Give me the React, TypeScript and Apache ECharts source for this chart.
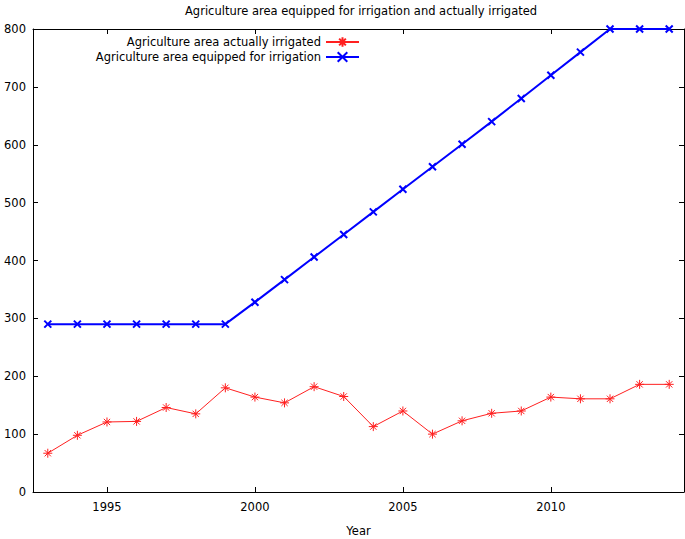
import React, { useEffect, useRef } from "react";
import * as echarts from "echarts";

const years = [1993, 1994, 1995, 1996, 1997, 1998, 1999, 2000, 2001, 2002, 2003, 2004, 2005, 2006, 2007, 2008, 2009, 2010, 2011, 2012, 2013, 2014];
const actuallyIrrigated = [67, 98, 121, 122, 146, 135, 180, 164, 154, 182, 165, 113, 140, 100, 123, 136, 140, 164, 161, 161, 186, 186];
const equippedForIrrigation = [290, 290, 290, 290, 290, 290, 290, 328, 367, 406, 445, 484, 523, 562, 601, 640, 680, 720, 760, 800, 800, 800];
const xTicks = [1995, 2000, 2005, 2010];
const nameActual = "Agriculture area actually irrigated";
const nameEquipped = "Agriculture area equipped for irrigation";

const FONT = "DejaVu Sans";
const FS = 11.5;
const STAR = "path://M5,0L5,10M0,5L10,5M1.5,1.5L8.5,8.5M8.5,1.5L1.5,8.5";
const CROSS = "path://M0,0L10,10M10,0L0,10";

export default function App() {
  const ref = useRef<HTMLDivElement>(null);
  useEffect(() => {
    if (!ref.current) return;
    const chart = echarts.init(ref.current, null, { renderer: "svg" });
    const axisCommon = {
      axisLine: { show: true, onZero: false, lineStyle: { color: "#000", width: 1 } },
      splitLine: { show: false },
    };
    const legendCommon = {
      right: 325,
      padding: 0,
      align: "right",
      itemWidth: 33,
      itemHeight: 12,
      itemGap: 0,
      textStyle: { fontFamily: FONT, fontSize: FS, color: "#000" },
    };
    chart.setOption({
      animation: false,
      backgroundColor: "#fff",
      title: {
        text: "Agriculture area equipped for irrigation and actually irrigated",
        left: 180,
        top: 0,
        textStyle: { fontFamily: FONT, fontSize: FS, fontWeight: "normal", color: "#000" },
      },
      legend: [
        { ...legendCommon, data: [nameActual], top: 36 },
        { ...legendCommon, data: [nameEquipped], top: 51 },
      ],
      grid: { left: 33, right: 1, top: 29, bottom: 47, outerBoundsMode: "none", containLabel: false },
      xAxis: [
        {
          type: "value",
          min: 1992.5,
          max: 2014.5,
          position: "bottom",
          name: "Year",
          nameLocation: "middle",
          nameGap: 33,
          nameTextStyle: { fontFamily: FONT, fontSize: FS, color: "#000" },
          ...axisCommon,
          axisTick: { show: true, inside: true, length: 5, customValues: xTicks, lineStyle: { color: "#000" } },
          axisLabel: {
            show: true,
            customValues: xTicks,
            formatter: (v: number) => String(v),
            margin: 9,
            fontFamily: FONT,
            fontSize: FS,
            color: "#000",
          },
        },
        {
          type: "value",
          min: 1992.5,
          max: 2014.5,
          position: "top",
          ...axisCommon,
          axisTick: { show: true, inside: true, length: 5, customValues: xTicks, lineStyle: { color: "#000" } },
          axisLabel: { show: false },
        },
      ],
      yAxis: [
        {
          type: "value",
          min: 0,
          max: 800,
          interval: 100,
          position: "left",
          ...axisCommon,
          axisTick: { show: true, inside: true, length: 5, lineStyle: { color: "#000" } },
          axisLabel: { margin: 7, fontFamily: FONT, fontSize: FS, color: "#000" },
        },
        {
          type: "value",
          min: 0,
          max: 800,
          interval: 100,
          position: "right",
          ...axisCommon,
          axisTick: { show: true, inside: true, length: 5, lineStyle: { color: "#000" } },
          axisLabel: { show: false },
        },
      ],
      series: [
        {
          name: nameActual,
          type: "line",
          xAxisIndex: 0,
          yAxisIndex: 0,
          data: years.map((y, i) => [y, actuallyIrrigated[i]]),
          symbol: STAR,
          symbolSize: 9,
          showSymbol: true,
          lineStyle: { color: "#ff2020", width: 1 },
          itemStyle: { color: "#ff2020", borderColor: "#ff2020", borderWidth: 1 },
        },
        {
          name: nameEquipped,
          type: "line",
          xAxisIndex: 0,
          yAxisIndex: 0,
          data: years.map((y, i) => [y, equippedForIrrigation[i]]),
          symbol: CROSS,
          symbolSize: 7,
          showSymbol: true,
          lineStyle: { color: "#0000ff", width: 2 },
          itemStyle: { color: "#0000ff", borderColor: "#0000ff", borderWidth: 2 },
        },
      ],
    });
    return () => chart.dispose();
  }, []);
  return (
    <div
      ref={ref}
      style={{ position: "fixed", left: 0, top: 0, width: 685, height: 539 }}
    />
  );
}
